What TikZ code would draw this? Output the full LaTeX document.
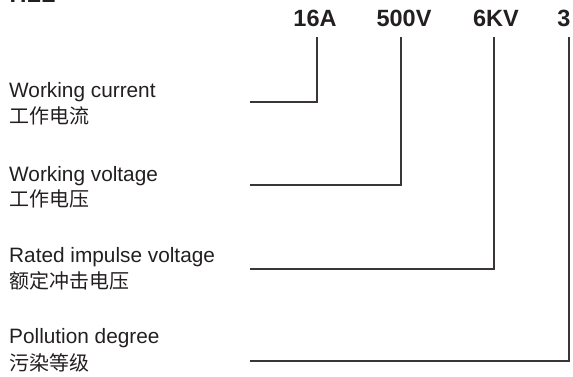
\documentclass[tikz,border=0pt]{standalone}
\usepackage{fontspec}
\setmainfont{Liberation Sans}
\newfontfamily\cjk{Noto Sans CJK SC}
\definecolor{ink}{HTML}{231F20}
\definecolor{wire}{HTML}{3A3536}
\begin{document}
\begin{tikzpicture}[x=1pt,y=1pt,
  code/.style={inner sep=0pt,anchor=base,font=\fontsize{23.5}{24}\selectfont\bfseries,text=ink},
  en/.style={inner sep=0pt,anchor=base west,font=\fontsize{20.8}{22}\selectfont,text=ink},
  zh/.style={inner sep=0pt,anchor=base west,font=\cjk\fontsize{20}{22}\selectfont,text=ink},
  wireline/.style={draw=wire,line width=1.3pt}]
\useasboundingbox (0,0) rectangle (573,-376);
% clipped title fragment at top left
\begin{scope}
\clip (0,0) rectangle (573,-376);
\node[inner sep=0pt,anchor=base west,font=\fontsize{23.5}{24}\selectfont\bfseries,text=ink] (ttl) at (9.5,-2.5) {HLL};
\end{scope}
% codes
\node[code] (c1) at (315,-26) {16A};
\node[code] (c2) at (404,-26) {500V};
\node[code] (c3) at (496,-26) {6KV};
\node[code] (c4) at (564,-26) {3};
% labels
\node[en] (e1) at (9,-97) {Working current};
\node[zh] (z1) at (9,-123) {工作电流};
\node[en] (e2) at (9,-181) {Working voltage};
\node[zh] (z2) at (9,-206) {工作电压};
\node[en] (e3) at (9,-262) {Rated impulse voltage};
\node[zh] (z3) at (9,-288) {额定冲击电压};
\node[en] (e4) at (9,-343) {Pollution degree};
\node[zh] (z4) at (9,-370) {污染等级};
% connector points
\coordinate (t1) at (317,-37); \coordinate (l1) at (250,-102);
\coordinate (t2) at (401,-37); \coordinate (l2) at (250,-185);
\coordinate (t3) at (494,-37); \coordinate (l3) at (250,-269);
\coordinate (t4) at (569,-37); \coordinate (l4) at (250,-361);
\draw[wireline] (t1) |- (l1);
\draw[wireline] (t2) |- (l2);
\draw[wireline] (t3) |- (l3);
\draw[wireline] (t4) |- (l4);
\end{tikzpicture}
\end{document}
